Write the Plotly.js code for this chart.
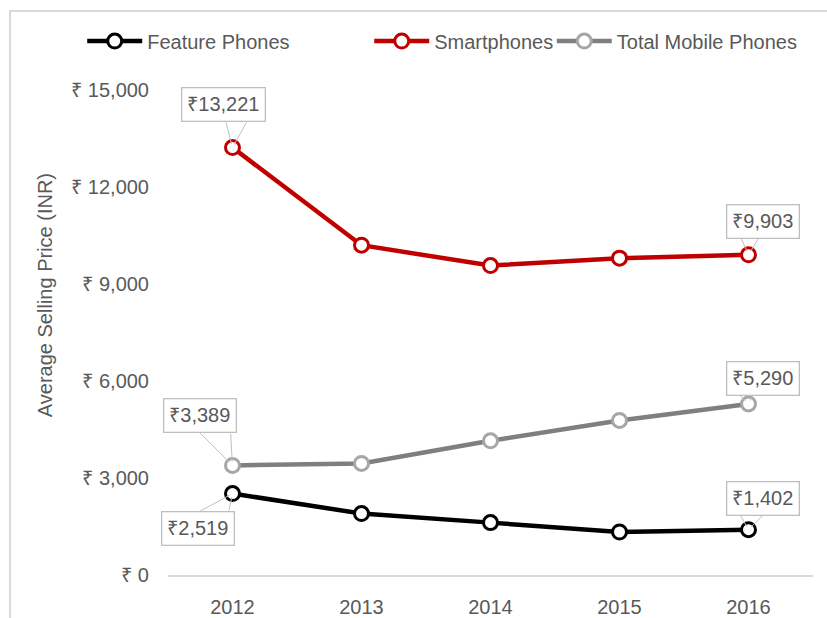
<!DOCTYPE html>
<html>
<head>
<meta charset="utf-8">
<script src="https://cdn.plot.ly/plotly-3.0.1.min.js"></script>
<style>
  html, body { margin: 0; padding: 0; background: #ffffff; }
  #wrap { position: relative; width: 827px; height: 618px; overflow: hidden; }
  #chart { position: absolute; left: 0; top: 0; width: 827px; height: 618px; }
  #frame { position: absolute; left: 9px; top: 10px; width: 900px; height: 700px;
           border-left: 2px solid #d9d9d9; border-top: 2px solid #d9d9d9; pointer-events: none; }
</style>
</head>
<body>
<div id="wrap">
  <div id="chart"></div>
  <div id="frame"></div>
</div>
<script>
// ---- data ----
const years = ['2012', '2013', '2014', '2015', '2016'];
const featurePhones = [2519, 1900, 1620, 1330, 1402];
const smartphones = [13221, 10200, 9570, 9800, 9903];
const totalMobile = [3389, 3450, 4150, 4780, 5290];
const seriesNames = ['Feature Phones', 'Smartphones', 'Total Mobile Phones'];
const yTickVals = [0, 3000, 6000, 9000, 12000, 15000];
const yTickText = yTickVals.map(v => '₹ ' + v.toLocaleString('en-US'));
const yTitle = 'Average Selling Price (INR)';

// ---- styling ----
const FONT = '"Liberation Sans", Arial, sans-serif';
const TXT = '#595959';
const FS = 20;

function fmt(v) { return '₹' + v.toLocaleString('en-US'); }

function lineTrace(name, y, lineColor, markerColor, legendId) {
  return {
    type: 'scatter', mode: 'lines+markers', name: name,
    x: years, y: y, legend: legendId, cliponaxis: false,
    line: { color: lineColor, width: 4.5 },
    marker: { symbol: 'circle', size: 14, color: '#ffffff', line: { color: markerColor, width: 3 } }
  };
}

const traces = [
  lineTrace(seriesNames[0], featurePhones, '#000000', '#000000', 'legend'),
  lineTrace(seriesNames[1], smartphones, '#c00000', '#c00000', 'legend2'),
  lineTrace(seriesNames[2], totalMobile, '#7f7f7f', '#a6a6a6', 'legend3')
];

// callouts: [series, index, box-center offset dx, dy, wedge base points]
const callouts = [
  [smartphones, 0, -9, -43, [[-7, -27], [15, -27]]],
  [smartphones, 4, 14, -33, [[-8, -18], [11, -18]]],
  [totalMobile, 0, -33, -50, [[-34, -34], [-2, -34]]],
  [featurePhones, 0, -35, 35, [[-35, 19], [-4, 19]]],
  [totalMobile, 4, 14, -25, [[-11, -11], [6, -11]]],
  [featurePhones, 4, 14, -31, [[-9, -16], [16, -16]]]
];

const annotations = [];
callouts.forEach(c => {
  const s = c[0], i = c[1];
  c[4].forEach(b => {
    annotations.push({
      x: i, y: s[i], xref: 'x', yref: 'y', text: ' ',
      font: { size: 1 }, showarrow: true, arrowhead: 0, arrowwidth: 1,
      arrowcolor: '#bfbfbf', ax: b[0], ay: b[1], standoff: 4
    });
  });
  annotations.push({
    x: i, y: s[i], xref: 'x', yref: 'y', text: fmt(s[i]),
    showarrow: false, xshift: c[2], yshift: -c[3],
    font: { family: FONT, size: FS, color: TXT },
    bgcolor: '#ffffff', bordercolor: '#bfbfbf', borderwidth: 1.3, borderpad: 5
  });
});

// y-axis title
annotations.push({
  xref: 'paper', yref: 'paper', x: -0.1907, y: 0.577, xanchor: 'center', yanchor: 'middle',
  text: yTitle, textangle: -90, showarrow: false,
  font: { family: FONT, size: FS, color: TXT }
});

function legendAt(x) {
  return {
    orientation: 'h', x: x, xanchor: 'left', y: 1.101, yanchor: 'middle',
    font: { family: FONT, size: FS, color: TXT }, bgcolor: 'rgba(0,0,0,0)',
    itemwidth: 55
  };
}

const layout = {
  width: 827, height: 618,
  margin: { l: 168, r: 14, t: 90, b: 43, pad: 0 },
  paper_bgcolor: '#ffffff', plot_bgcolor: '#ffffff',
  font: { family: FONT, size: FS, color: TXT },
  showlegend: true,
  legend: legendAt(-0.133),
  legend2: legendAt(0.312),
  legend3: legendAt(0.595),
  xaxis: {
    type: 'category', range: [-0.5, 4.5], showgrid: false, zeroline: false,
    showline: true, linecolor: '#d9d9d9', linewidth: 1.5,
    ticks: 'outside', ticklen: 13, tickcolor: 'rgba(0,0,0,0)',
    tickfont: { family: FONT, size: FS, color: TXT }
  },
  yaxis: {
    range: [0, 15000], tickmode: 'array', tickvals: yTickVals, ticktext: yTickText,
    showgrid: false, zeroline: false, showline: false,
    ticks: 'outside', ticklen: 14, tickcolor: 'rgba(0,0,0,0)',
    tickfont: { family: FONT, size: FS, color: TXT }
  },
  annotations: annotations
};

Plotly.newPlot('chart', traces, layout, { displayModeBar: false, staticPlot: true });
</script>
</body>
</html>
